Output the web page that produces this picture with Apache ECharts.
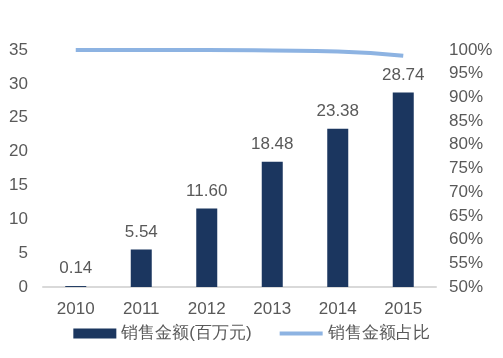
<!DOCTYPE html>
<html><head><meta charset="utf-8">
<script src="https://cdn.jsdelivr.net/npm/echarts@6/dist/echarts.min.js"></script>
<style>html,body{margin:0;padding:0;background:#fff}#c{width:503px;height:358px}</style>
</head><body><div id="c"></div>
<script>
const categories = ['2010','2011','2012','2013','2014','2015'];
const salesValues = [0.14, 5.54, 11.60, 18.48, 23.38, 28.74];
const shareValues = [1.0, 1.0, 1.0, 0.999, 0.997, 0.988];
const leftTicks = {min:0, max:35, interval:5};
const rightTicks = {min:0.5, max:1.0, interval:0.05};
const seriesNames = ['销售金额(百万元)', '销售金额占比'];

const font = '"Liberation Sans", Arial, sans-serif';
const gray = '#595959';
const chart = echarts.init(document.getElementById('c'));
chart.setOption({
  animation:false,
  textStyle:{fontFamily:font},
  grid:{left:43, right:67, top:50, bottom:71, containLabel:false},
  legend:{
    top:320, left:'center',
    itemWidth:43, itemHeight:10, itemGap:28,
    textStyle:{color:gray, fontSize:17, fontFamily:font},
    data:[{name:seriesNames[0], icon:'path://M0,0h43v10h-43z'},
          {name:seriesNames[1], icon:'path://M0,3h43v4h-43z', itemStyle:{color:'#8db3e2'}}]
  },
  xAxis:{
    type:'category', data:categories,
    axisLine:{lineStyle:{color:'#d9d9d9', width:2}},
    axisTick:{show:false},
    axisLabel:{color:gray, fontSize:17, margin:14, fontFamily:font}
  },
  yAxis:[{
    type:'value', min:leftTicks.min, max:leftTicks.max, interval:leftTicks.interval,
    splitLine:{show:false}, axisLine:{show:false}, axisTick:{show:false},
    axisLabel:{color:gray, fontSize:17, margin:15, fontFamily:font}
  },{
    type:'value', min:rightTicks.min, max:rightTicks.max, interval:rightTicks.interval,
    splitLine:{show:false}, axisLine:{show:false}, axisTick:{show:false},
    axisLabel:{color:gray, fontSize:17, margin:13, fontFamily:font, align:'left',
      formatter:v=>Math.round(v*100)+'%'}
  }],
  series:[{
    name:seriesNames[0], type:'bar', data:salesValues, barWidth:21,
    itemStyle:{color:'#1b365f'},
    label:{show:true, position:'top', distance:9, color:gray, fontSize:17, fontFamily:font,
      formatter:p=>p.value.toFixed(2)}
  },{
    name:seriesNames[1], type:'line', yAxisIndex:1, data:shareValues, smooth:true,
    symbol:'none', lineStyle:{color:'#8db3e2', width:4}, itemStyle:{color:'#8db3e2'}
  }]
});
</script></body></html>
